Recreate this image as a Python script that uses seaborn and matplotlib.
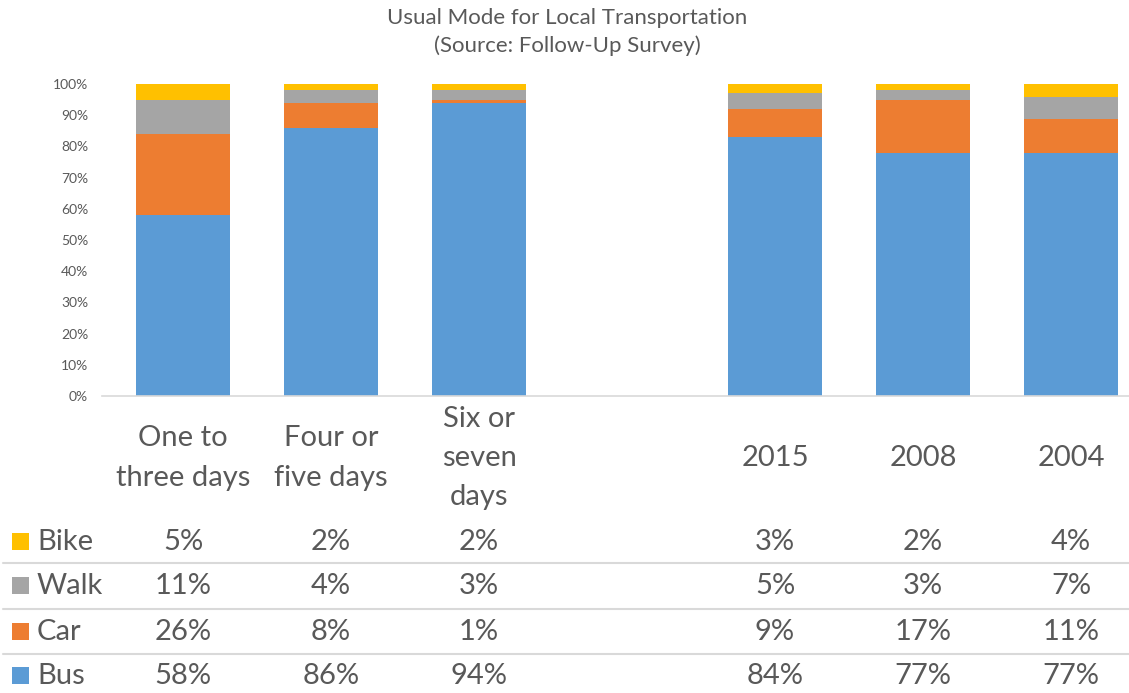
import pandas as pd
import matplotlib
matplotlib.use('Agg')
import matplotlib.pyplot as plt
import matplotlib.transforms as mtransforms
import seaborn as sns

# data
categories = ["One to\nthree days", "Four or\nfive days", "Six or\nseven\ndays", "2015", "2008", "2004"]
gap_slot = " "  # empty slot between the two groups
modes = ["Bike", "Walk", "Car", "Bus"]
bus = [58, 86, 94, 84, 77, 77]
car = [26, 8, 1, 9, 17, 11]
walk = [11, 4, 3, 5, 3, 7]
bike = [5, 2, 2, 3, 2, 4]

colors = {"Bus": "#5B9BD5", "Car": "#ED7D31", "Walk": "#A5A5A5", "Bike": "#FFC000"}
text_color = "#595959"
line_color = "#D9D9D9"

sns.set_theme(style="white")
plt.rcParams['font.family'] = ['Lato', 'DejaVu Sans']

df = pd.DataFrame({"category": categories, "Bus": bus, "Car": car, "Walk": walk, "Bike": bike})
total = df[["Bus", "Car", "Walk", "Bike"]].sum(axis=1)
# 100% stacked: cumulative shares, top layer first
df["Bus_top"] = df["Bus"] / total * 100
df["Car_top"] = (df["Bus"] + df["Car"]) / total * 100
df["Walk_top"] = (df["Bus"] + df["Car"] + df["Walk"]) / total * 100
df["Bike_top"] = 100.0

order = categories[:3] + [gap_slot] + categories[3:]

W, H = 1129, 693
fig = plt.figure(figsize=(W / 100, H / 100), dpi=100)
ax = fig.add_axes([102 / W, 1 - 396 / H, (W - 102) / W, (396 - 84) / H])

for mode in ["Bike", "Walk", "Car", "Bus"]:
    sns.barplot(data=df, x="category", y=f"{mode}_top", order=order, color=colors[mode],
                saturation=1, width=0.635, linewidth=0, ax=ax)

ax.set_xlim(-81 / 148, (W - 183) / 148)
ax.set_ylim(0, 100)
ax.set_yticks(range(0, 101, 10))
ax.set_yticklabels([f"{v}%" for v in range(0, 101, 10)], fontsize=10, color=text_color)
ax.tick_params(axis='y', length=0, pad=10)
ax.set_xticks([])
ax.set_xlabel("")
ax.set_ylabel("")
for side in ["top", "right", "left"]:
    ax.spines[side].set_visible(False)
ax.spines["bottom"].set_color(line_color)
ax.spines["bottom"].set_linewidth(1.2)

# title
fig.text(567 / W, 1 - 32 / H, "Usual Mode for Local Transportation\n(Source: Follow-Up Survey)",
         ha="center", va="center", fontsize=16, color=text_color, linespacing=1.5)

trans = mtransforms.blended_transform_factory(ax.transData, fig.transFigure)

# category labels under the axis
for cat in categories:
    ax.text(order.index(cat), 1 - 458 / H, cat, transform=trans, ha="center", va="center",
            fontsize=21, color=text_color, linespacing=1.62)

# data table
row_y = {"Bike": 542, "Walk": 586, "Car": 632, "Bus": 676}
values = {"Bike": bike, "Walk": walk, "Car": car, "Bus": bus}
for mode in modes:
    y = 1 - row_y[mode] / H
    fig.patches.append(plt.Rectangle((12 / W, 1 - (row_y[mode] - 1) / H - 8.5 / H), 17 / W, 17 / H,
                                     transform=fig.transFigure, color=colors[mode], linewidth=0))
    fig.text(37 / W, y, mode, ha="left", va="center", fontsize=21, color=text_color)
    for cat, v in zip(categories, values[mode]):
        ax.text(order.index(cat), y, f"{v}%", transform=trans, ha="center", va="center",
                fontsize=21, color=text_color)

for ly in [563, 609, 654]:
    fig.lines.append(plt.Line2D([3 / W, 1], [1 - ly / H, 1 - ly / H], transform=fig.transFigure,
                                color=line_color, linewidth=1.5))

fig.savefig("out.png", dpi=100)
